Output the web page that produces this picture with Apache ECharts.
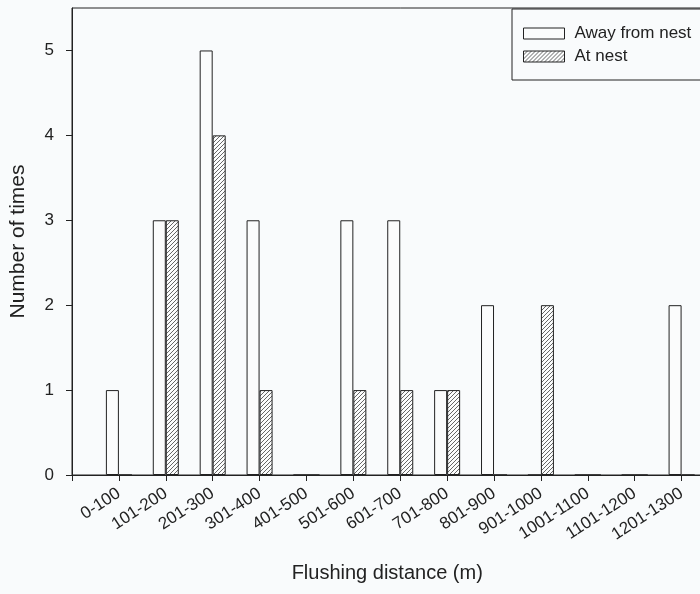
<!DOCTYPE html>
<html>
<head>
<meta charset="utf-8">
<script src="https://cdn.jsdelivr.net/npm/echarts@6/dist/echarts.min.js"></script>
<style>
  html, body { margin: 0; padding: 0; background: #f9fbfc; overflow: hidden; }
  /* the original figure is cut off at the right edge: draw it wider and let the page crop it */
  #chart { width: 731px; height: 594px; }
</style>
</head>
<body>
<div id="chart"></div>
<script>
// distance classes (m)
var categories = ['0-100', '101-200', '201-300', '301-400', '401-500', '501-600', '601-700',
  '701-800', '801-900', '901-1000', '1001-1100', '1101-1200', '1201-1300'];
var awayFromNest = [1, 3, 5, 3, 0, 3, 3, 1, 2, 0, 0, 0, 2];
var atNest = [0, 3, 4, 1, 0, 1, 1, 1, 0, 2, 0, 0, 0];
var yTicks = [0, 1, 2, 3, 4, 5];

// hatch fill for "At nest"
function hatch() {
  var c = document.createElement('canvas');
  c.width = 4; c.height = 4;
  var g = c.getContext('2d');
  g.fillStyle = '#fbfcfc';
  g.fillRect(0, 0, 4, 4);
  g.strokeStyle = '#555';
  g.lineWidth = 0.9;
  g.beginPath();
  g.moveTo(0, 4); g.lineTo(4, 0);
  g.moveTo(-1, 1); g.lineTo(1, -1);
  g.moveTo(3, 5); g.lineTo(5, 3);
  g.stroke();
  return { image: c, repeat: 'repeat' };
}
var hatchFill = hatch();

// empty slot at each end so the ticks sit like the original
var axisCats = [''].concat(categories, ['']);
function pad(a) { return [null].concat(a, [null]); }

var font = 'Liberation Sans, Arial, sans-serif';
var chart = echarts.init(document.getElementById('chart'));
chart.setOption({
  backgroundColor: '#f9fbfc',
  animation: false,
  grid: {
    left: 70, top: 8, right: 0, bottom: 119,
    show: true, borderColor: '#222', borderWidth: 1, backgroundColor: 'transparent'
  },
  legend: {
    orient: 'vertical',
    left: 512, top: 9,
    padding: [16, 40, 15, 11],
    borderColor: '#222', borderWidth: 1,
    itemWidth: 41, itemHeight: 11, itemGap: 6,
    icon: 'rect',
    textStyle: { fontFamily: font, fontSize: 17, color: '#222', padding: [0, 0, 0, 5] },
    data: [
      { name: 'Away from nest', itemStyle: { color: '#fbfcfc', borderColor: '#222', borderWidth: 1 } },
      { name: 'At nest', itemStyle: { color: hatchFill, borderColor: '#222', borderWidth: 1 } }
    ]
  },
  xAxis: {
    type: 'category',
    data: axisCats,
    boundaryGap: false,
    name: 'Flushing distance (m)',
    nameLocation: 'middle',
    nameGap: 88,
    nameTextStyle: { fontFamily: font, fontSize: 20, color: '#222', padding: [0, 26, 0, 0] },
    axisLine: { lineStyle: { color: '#222', width: 1 } },
    axisTick: { show: true, length: 6, interval: 0, lineStyle: { color: '#222' } },
    axisLabel: { interval: 0, rotate: 33, margin: 17, fontFamily: font, fontSize: 17, color: '#222' },
    splitLine: { show: false }
  },
  yAxis: {
    type: 'value',
    min: 0, max: 5.5,
    name: 'Number of times',
    nameLocation: 'middle',
    nameGap: 43,
    nameTextStyle: { fontFamily: font, fontSize: 21, color: '#222' },
    axisLine: { show: true, lineStyle: { color: '#222', width: 1 } },
    axisTick: { show: true, length: 6, customValues: yTicks, lineStyle: { color: '#222' } },
    axisLabel: { customValues: yTicks, margin: 18, fontFamily: font, fontSize: 17, color: '#222' },
    splitLine: { show: false }
  },
  series: [
    {
      name: 'Away from nest',
      type: 'bar',
      data: pad(awayFromNest),
      barWidth: 13,
      barGap: '0%',
      itemStyle: { color: '#fbfcfc', borderColor: '#222', borderWidth: 1 }
    },
    {
      name: 'At nest',
      type: 'bar',
      data: pad(atNest),
      barWidth: 13,
      itemStyle: { color: hatchFill, borderColor: '#222', borderWidth: 1 }
    }
  ]
});
</script>
</body>
</html>
